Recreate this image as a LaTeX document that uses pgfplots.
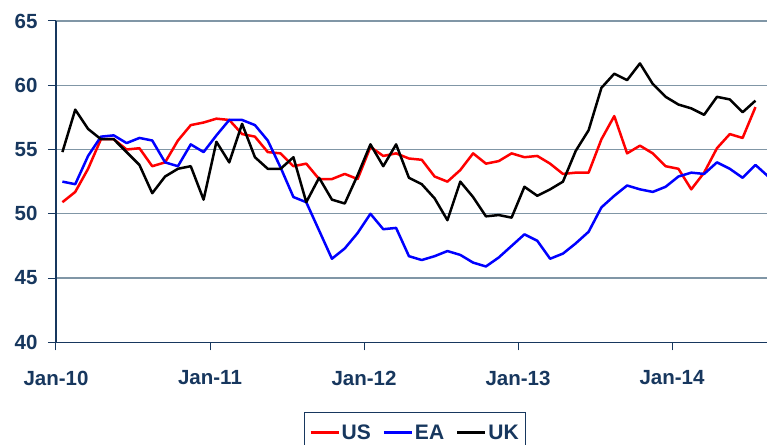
\documentclass[border=0pt]{standalone}
\usepackage{fontspec}
\setmainfont{Liberation Sans}
\usepackage{pgfplots}
\usepackage{pgfplotstable}
\pgfplotsset{compat=1.18}

\definecolor{navy}{RGB}{23,55,94}
\definecolor{gridc}{RGB}{128,150,166}

% monthly index m (0 = Jan-10), points sit mid-month
\pgfplotstableread{
m us ea uk
0 50.9 52.5 54.8
1 51.7 52.3 58.1
2 53.5 54.5 56.6
3 55.8 56.0 55.8
4 55.8 56.1 55.8
5 55.0 55.5 54.8
6 55.1 55.9 53.8
7 53.7 55.7 51.6
8 54.0 54.0 52.9
9 55.7 53.7 53.5
10 56.9 55.4 53.7
11 57.1 54.8 51.1
12 57.4 56.1 55.6
13 57.3 57.3 54.0
14 56.2 57.3 57.0
15 56.0 56.9 54.4
16 54.8 55.7 53.5
17 54.7 53.6 53.5
18 53.7 51.3 54.4
19 53.9 50.9 50.9
20 52.7 48.7 52.8
21 52.7 46.5 51.1
22 53.1 47.3 50.8
23 52.7 48.5 53.0
24 55.2 50.0 55.4
25 54.5 48.8 53.7
26 54.7 48.9 55.4
27 54.3 46.7 52.8
28 54.2 46.4 52.3
29 52.9 46.7 51.2
30 52.5 47.1 49.5
31 53.4 46.8 52.5
32 54.7 46.2 51.3
33 53.9 45.9 49.8
34 54.1 46.6 49.9
35 54.7 47.5 49.7
36 54.4 48.4 52.1
37 54.5 47.9 51.4
38 53.9 46.5 51.9
39 53.1 46.9 52.5
40 53.2 47.7 54.9
41 53.2 48.6 56.5
42 55.8 50.5 59.8
43 57.6 51.4 60.9
44 54.7 52.2 60.4
45 55.3 51.9 61.7
46 54.7 51.7 60.1
47 53.7 52.1 59.1
48 53.5 52.9 58.5
49 51.9 53.2 58.2
50 53.2 53.1 57.7
51 55.1 54.0 59.1
52 56.2 53.5 58.9
53 55.9 52.8 57.9
54 58.3 53.8 58.8
55 nan 52.9 nan
}\pmidata

\begin{document}
\begin{tikzpicture}
\begin{axis}[
  name=ax,
  scale only axis,
  width=711pt, height=321.3pt,
  xmin=0, xmax=55.4,
  ymin=40, ymax=65,
  xtick={0,12,24,36,48},
  xticklabels={Jan-10,Jan-11,Jan-12,Jan-13,Jan-14},
  ytick={40,45,50,55,60,65},
  axis x line*=bottom,
  axis y line*=left,
  axis line style={navy, line width=1.3pt},
  tick align=outside,
  major tick length=8pt,
  tick style={navy, line width=1pt},
  ymajorgrids,
  grid style={gridc, line width=1.3pt},
  /pgf/number format/assume math mode=true,
  tick label style={font=\bfseries\fontsize{20.5}{24}\selectfont, text=navy},
  xticklabel style={yshift=-17pt},
  yticklabel style={xshift=-7pt},
  legend style={
    at={(0.505,-0.217)}, anchor=north,
    draw=navy, line width=1pt,
    font=\bfseries\fontsize{21}{24}\selectfont, text=navy,
    legend columns=-1,
    inner xsep=5pt, inner ysep=10pt,
    /tikz/every even column/.append style={column sep=10pt},
  },
  legend image code/.code={\draw[#1, line width=2.2pt] (0pt,0pt) -- (28pt,0pt);},
  every axis plot/.append style={line width=2.5pt, line join=round},
]
\addplot[red] table[x expr=\thisrow{m}+0.5, y=us] {\pmidata};
\addplot[blue] table[x expr=\thisrow{m}+0.5, y=ea] {\pmidata};
\addplot[black] table[x expr=\thisrow{m}+0.5, y=uk] {\pmidata};
\legend{US,EA,UK}
\end{axis}
\pgfresetboundingbox
\path[use as bounding box] ([xshift=-56pt,yshift=-102.7pt]ax.south west) rectangle ([yshift=21pt]ax.north east);
\end{tikzpicture}
\end{document}
